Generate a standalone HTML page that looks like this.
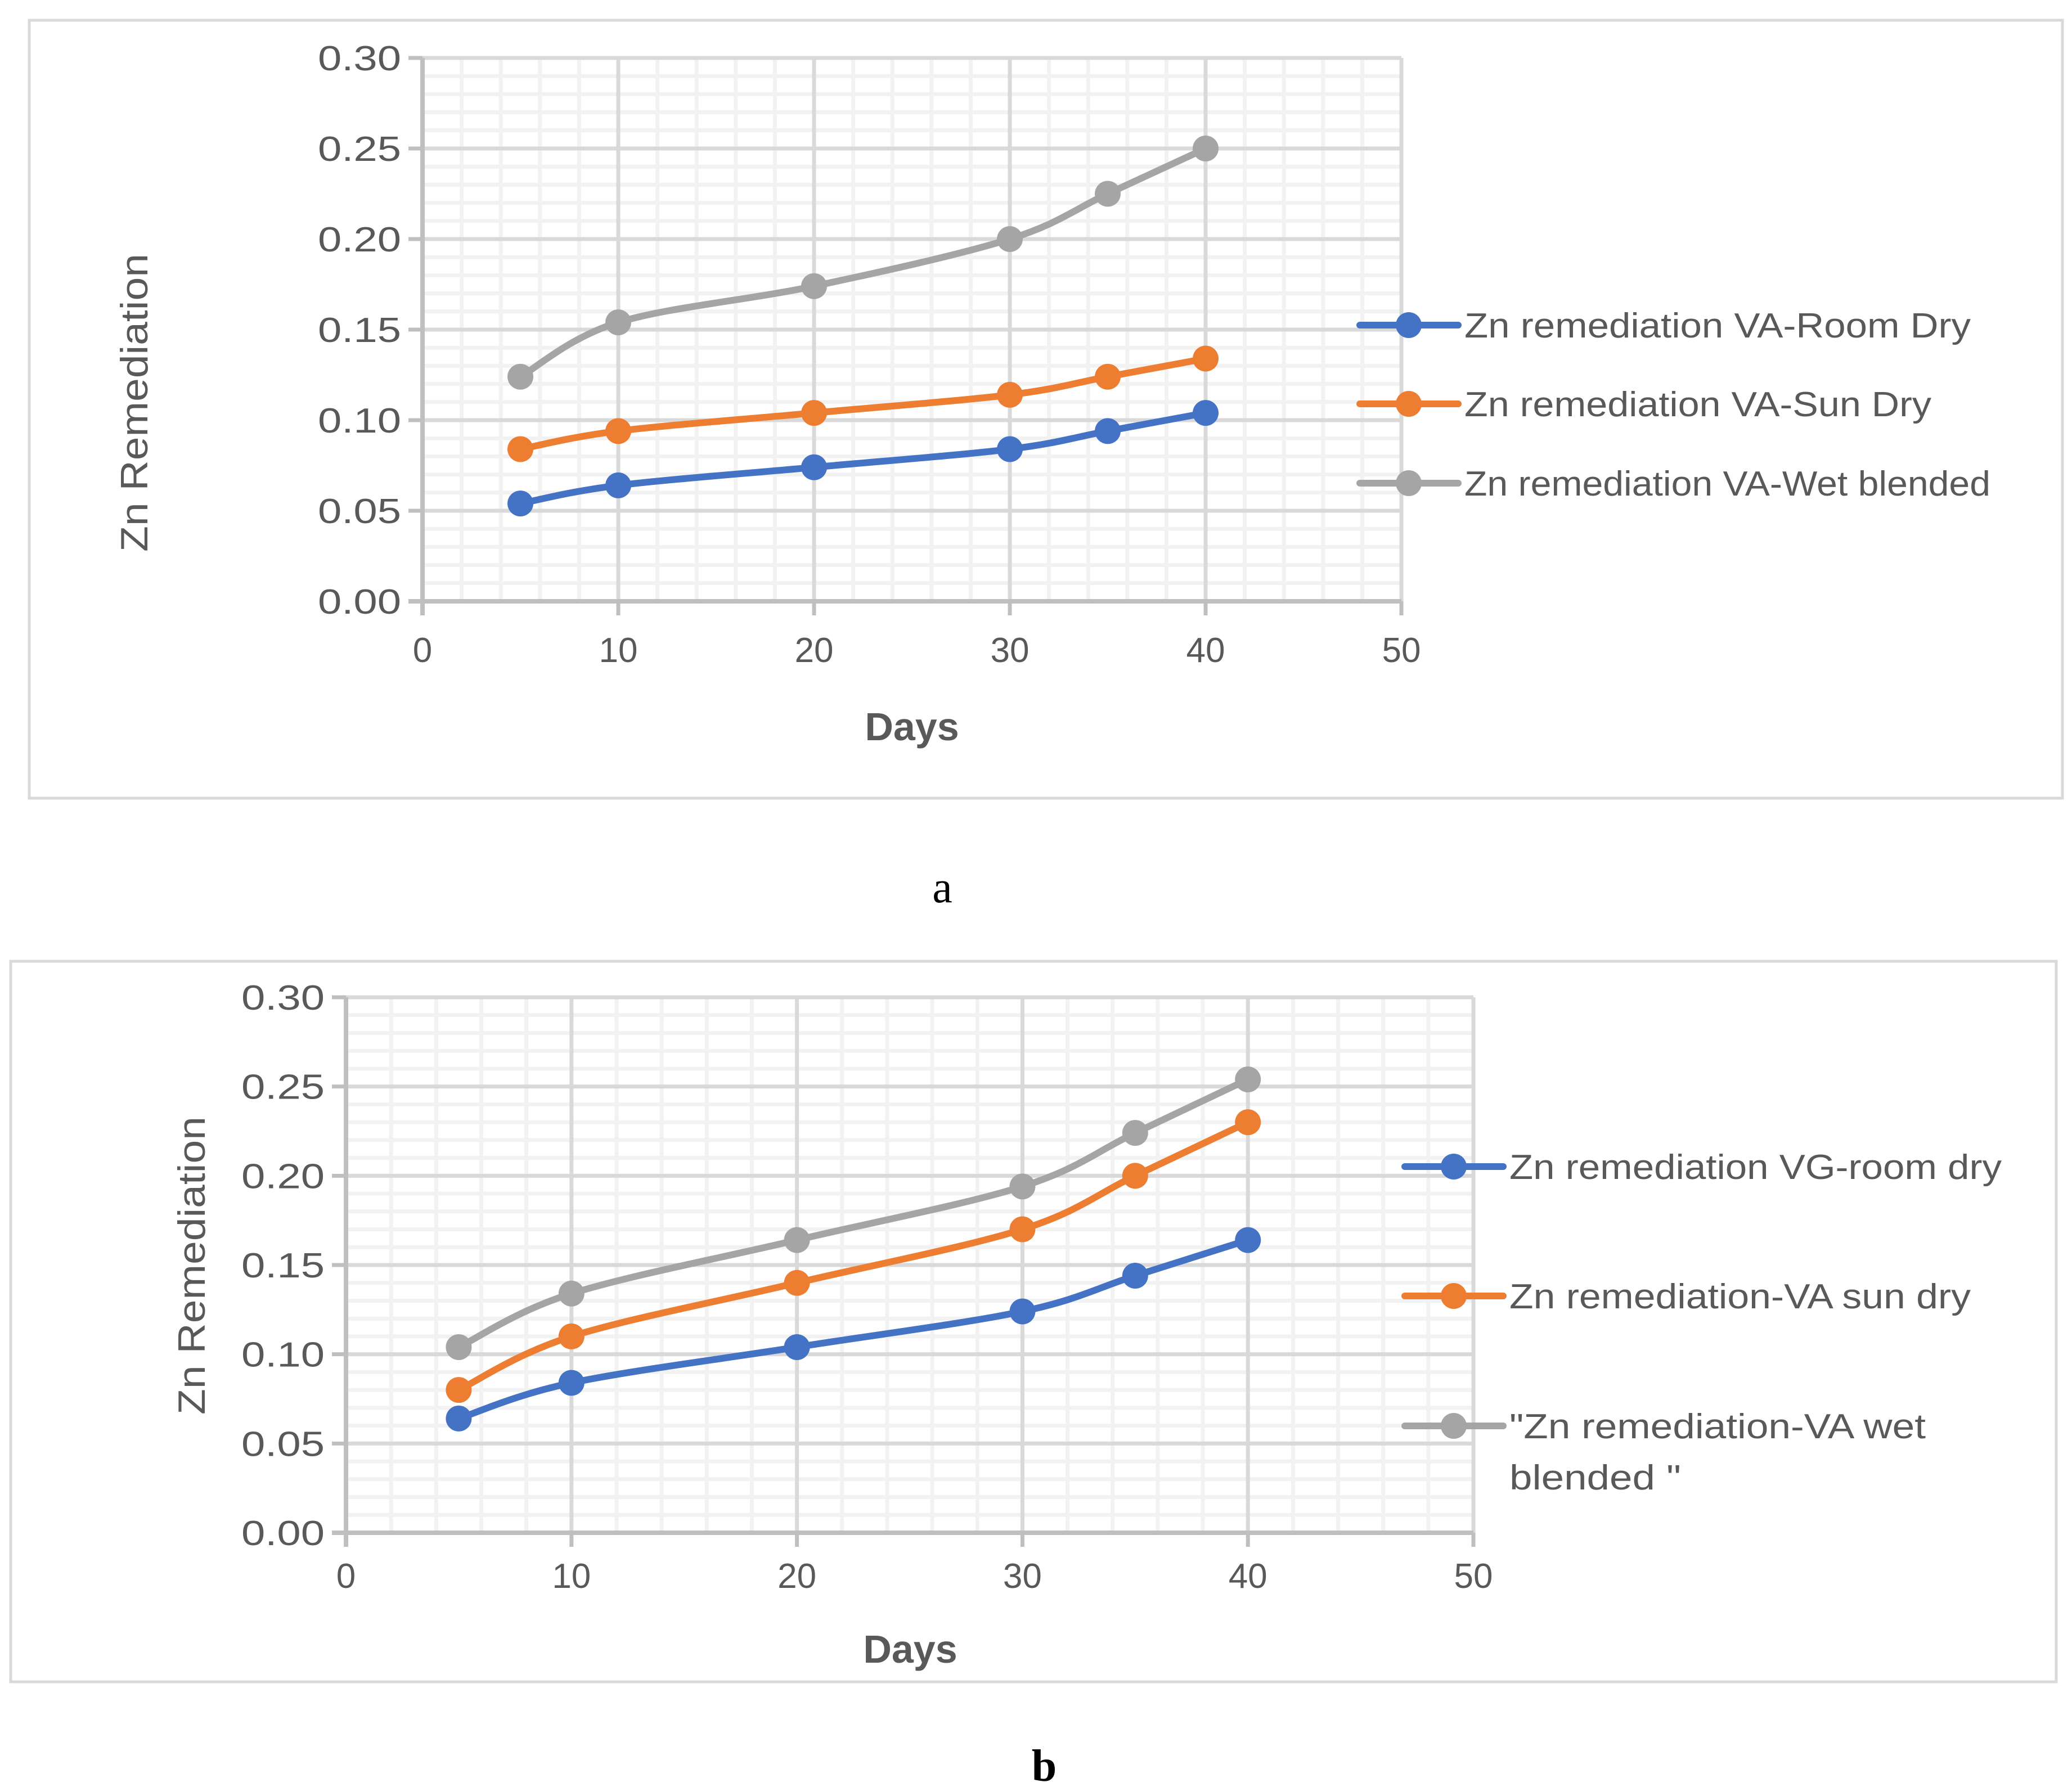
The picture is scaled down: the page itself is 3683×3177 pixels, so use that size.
<!DOCTYPE html>
<html><head><meta charset="utf-8"><style>
html,body{margin:0;padding:0;background:#fff;}
svg{display:block;font-family:"Liberation Sans",sans-serif;}
</style></head><body>
<svg id="s" width="3683" height="3177" viewBox="0 0 3683 3177" xmlns="http://www.w3.org/2000/svg">
<rect x="52" y="36" width="3614" height="1383" fill="#fff" stroke="#d9d9d9" stroke-width="5"/>
<rect x="19" y="1709" width="3636" height="1281" fill="#fff" stroke="#d9d9d9" stroke-width="5"/>
<text x="1675" y="1604" font-family="Liberation Serif, serif" font-size="80" text-anchor="middle" fill="#000">a</text>
<text x="1856" y="3166" font-family="Liberation Serif, serif" font-size="80" font-weight="bold" text-anchor="middle" fill="#000">b</text>
</svg>
<script>
const daysA = [5,10,20,30,35,40];
const roomA = [0.054,0.064,0.074,0.084,0.094,0.104];
const sunA = [0.084,0.094,0.104,0.114,0.124,0.134];
const wetA = [0.124,0.154,0.174,0.200,0.225,0.250];
const daysB = [5,10,20,30,35,40];
const roomB = [0.064,0.084,0.104,0.124,0.144,0.164];
const sunB = [0.080,0.110,0.140,0.170,0.200,0.230];
const wetB = [0.104,0.134,0.164,0.194,0.224,0.254];
const yTicks = ["0.00","0.05","0.10","0.15","0.20","0.25","0.30"];
const xTicks = ["0","10","20","30","40","50"];
const namesA = ["Zn remediation VA-Room Dry","Zn remediation VA-Sun Dry","Zn remediation VA-Wet blended"];
const namesB = ["Zn remediation VG-room dry","Zn remediation-VA sun dry","\"Zn remediation-VA wet"];
const colors = ["#4472c4","#ed7d31","#a5a5a5"];
const NS="http://www.w3.org/2000/svg";
const svg=document.getElementById('s');
function el(t,a,p){const e=document.createElementNS(NS,t);for(const k in a)e.setAttribute(k,a[k]);(p||svg).appendChild(e);return e;}
function smooth(pts){let d=`M${pts[0][0]},${pts[0][1]}`;for(let i=0;i<pts.length-1;i++){const p0=pts[Math.max(0,i-1)],p1=pts[i],p2=pts[i+1],p3=pts[Math.min(pts.length-1,i+2)];const t=6;d+=` C${p1[0]+(p2[0]-p0[0])/t},${p1[1]+(p2[1]-p0[1])/t} ${p2[0]-(p3[0]-p1[0])/t},${p2[1]-(p3[1]-p1[1])/t} ${p2[0]},${p2[1]}`;}return d;}
function chart(c){
  const g=el('g',{});
  
  
  const X=v=>c.x0+(v/50)*(c.x1-c.x0), Y=v=>c.y0-(v/0.3)*(c.y0-c.y1);
  for(let v=2;v<50;v+=2){if(v%10)el('line',{x1:X(v),x2:X(v),y1:c.y1,y2:c.y0,stroke:'#f2f2f2','stroke-width':7},g);}
  for(let i=1;i<30;i++){if(i%5)el('line',{x1:c.x0,x2:c.x1,y1:Y(i/100),y2:Y(i/100),stroke:'#f2f2f2','stroke-width':7},g);}
  for(let v=10;v<=50;v+=10)el('line',{x1:X(v),x2:X(v),y1:c.y1,y2:c.y0,stroke:'#d9d9d9','stroke-width':7},g);
  for(let i=1;i<=6;i++)el('line',{x1:c.x0,x2:c.x1,y1:Y(i*0.05),y2:Y(i*0.05),stroke:'#d9d9d9','stroke-width':7},g);
  el('line',{x1:c.x0,x2:c.x0,y1:c.y1,y2:c.y0+25,stroke:'#bfbfbf','stroke-width':8},g);
  el('line',{x1:c.x0-25,x2:c.x1,y1:c.y0,y2:c.y0,stroke:'#bfbfbf','stroke-width':8},g);
  yTicks.forEach((t,i)=>{
    el('line',{x1:c.x0-25,x2:c.x0,y1:Y(i*0.05),y2:Y(i*0.05),stroke:'#bfbfbf','stroke-width':7},g);
    const tx=el('text',{x:c.x0-38,y:Y(i*0.05)+22,'font-size':62,'text-anchor':'end',fill:'#595959',textLength:148,lengthAdjust:'spacingAndGlyphs'},g);tx.textContent=t;
    
    
  });
  xTicks.forEach((t,i)=>{
    el('line',{x1:X(i*10),x2:X(i*10),y1:c.y0,y2:c.y0+25,stroke:'#bfbfbf','stroke-width':7},g);
    const tx=el('text',{x:X(i*10),y:c.y0+c.xlOff,'font-size':62,'text-anchor':'middle',fill:'#595959'},g);tx.textContent=t;
    
    
  });
  const xt=el('text',{x:c.dx,y:c.dy,'font-size':70,'font-weight':'bold','text-anchor':'middle',fill:'#595959'},g);xt.textContent='Days';
  
  
  const yt=el('text',{x:c.yx,y:c.yy,'font-size':68,'text-anchor':'middle',fill:'#595959',textLength:530,lengthAdjust:'spacingAndGlyphs',transform:`rotate(-90 ${c.yx} ${c.yy})`},g);yt.textContent='Zn Remediation';
  
  
  c.series.forEach((s,k)=>{
    const pts=c.days.map((d,i)=>[X(d),Y(s[i])]);
    const p=el('path',{d:smooth(pts),fill:'none',stroke:colors[k],'stroke-width':12,'stroke-linecap':'round'},g);
    
    
    pts.forEach(q=>{const m=el('circle',{cx:q[0],cy:q[1],r:23,fill:colors[k]},g);
      
      });
    const ly=c.ly[k];
    el('line',{x1:c.lx,x2:c.lx+175,y1:ly,y2:ly,stroke:colors[k],'stroke-width':12,'stroke-linecap':'round'},g);
    el('circle',{cx:c.lx+87,cy:ly,r:23,fill:colors[k]},g);
    const lt=el('text',{x:c.lx+186,y:ly+22,'font-size':62,fill:'#595959',textLength:c.lw[k],lengthAdjust:'spacingAndGlyphs'},g);lt.textContent=c.names[k];
    
    
  });
  if(c.extra){const lt=el('text',{x:c.lx+186,y:c.extra.y,'font-size':62,fill:'#595959',textLength:c.extra.w,lengthAdjust:'spacingAndGlyphs'},g);lt.textContent='blended  "';
    
    }
}
chart({id:'chart-a',x0:751,x1:2491,y0:1069,y1:103,xlOff:108,dx:1621,dy:1316,yx:262,yy:716,days:daysA,series:[roomA,sunA,wetA],names:namesA,lx:2417,ly:[578,718,859],lw:[900,830,935]});
chart({id:'chart-b',x0:615,x1:2619,y0:2725,y1:1773,xlOff:98,dx:1618,dy:2956,yx:364,yy:2250,days:daysB,series:[roomB,sunB,wetB],names:namesB,lx:2497,ly:[2074,2304,2535],lw:[875,820,740],extra:{y:2648,w:305}});
</script>
</body></html>
